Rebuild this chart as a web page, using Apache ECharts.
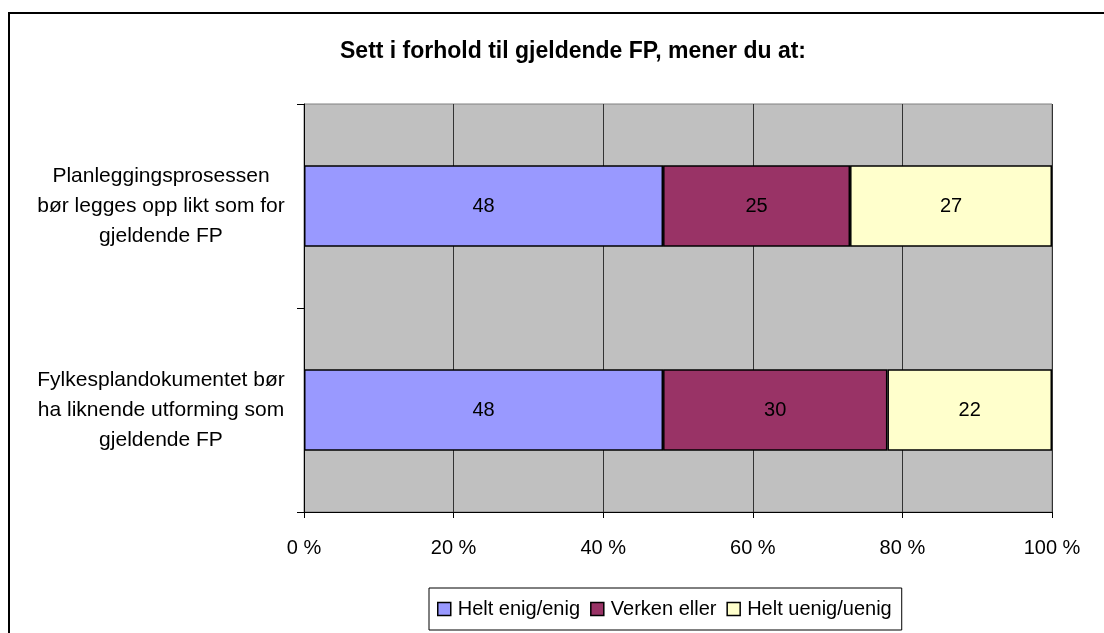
<!DOCTYPE html>
<html>
<head>
<meta charset="utf-8">
<script src="https://cdn.jsdelivr.net/npm/echarts@6/dist/echarts.min.js"></script>
<style>
  html, body { margin: 0; padding: 0; background: #fff; }
  #chart { width: 1104px; height: 633px; }
</style>
</head>
<body>
<div id="chart"></div>
<script>
// kategorier (ovenfra og ned)
var categories = [
  'Planleggingsprosessen\nbør legges opp likt som for\ngjeldende FP',
  'Fylkesplandokumentet bør\nha liknende utforming som\ngjeldende FP'
]
var seriesNames = ['Helt enig/enig', 'Verken eller', 'Helt uenig/uenig']
var enig = [48, 48]
var verken = [25, 30]
var uenig = [27, 22]
var xTicks = [0, 20, 40, 60, 80, 100]

var font = '"Liberation Sans", Arial, sans-serif'
var colors = ['#9999FF', '#993366', '#FFFFCC']

var chart = echarts.init(document.getElementById('chart'))

var mkSeries = function (name, data, i) {
  return {
    name: name,
    type: 'bar',
    stack: 'total',
    data: data,
    barWidth: '40%',
    itemStyle: { color: colors[i], borderColor: '#000', borderWidth: 1.5 },
    label: {
      show: true,
      position: 'inside',
      color: '#000',
      fontFamily: font,
      fontSize: 20
    }
  }
}

var option = {
  animation: false,
  backgroundColor: '#fff',
  title: {
    text: 'Sett i forhold til gjeldende FP, mener du at:',
    left: 568,
    top: 35,
    textAlign: 'center',
    textStyle: { fontFamily: font, fontSize: 23, fontWeight: 'bold', color: '#000' }
  },
  graphic: [{
    type: 'rect',
    shape: { x: 9, y: 13, width: 1400, height: 900 },
    style: { fill: 'none', stroke: '#000', lineWidth: 2 },
    z: -1
  }],
  legend: {
    data: seriesNames,
    left: 429,
    top: 588,
    width: 480,
    itemWidth: 13,
    itemHeight: 13,
    itemGap: 10,
    padding: [11, 10, 11, 8],
    borderColor: '#000',
    borderWidth: 1,
    icon: 'rect',
    itemStyle: { borderColor: '#000', borderWidth: 1.5 },
    textStyle: { fontFamily: font, fontSize: 20, color: '#000', padding: [0, 0, 0, 2] }
  },
  grid: {
    left: 304,
    right: 52,
    top: 104,
    bottom: 121,
    show: true,
    backgroundColor: '#C0C0C0',
    borderColor: '#808080',
    borderWidth: 1
  },
  xAxis: {
    type: 'value',
    min: 0,
    max: 100,
    interval: 20,
    axisLine: { show: true, lineStyle: { color: '#000', width: 1 } },
    axisTick: { show: true, length: 6, lineStyle: { color: '#000' } },
    splitLine: { show: true, lineStyle: { color: '#333', width: 1 } },
    axisLabel: {
      margin: 26,
      color: '#000',
      fontFamily: font,
      fontSize: 20,
      formatter: function (v) { return xTicks.indexOf(v) >= 0 ? v + ' %' : '' }
    }
  },
  yAxis: {
    type: 'category',
    inverse: true,
    data: categories,
    axisLine: { show: true, lineStyle: { color: '#000', width: 1 } },
    axisTick: { show: true, length: 7, alignWithLabel: false, lineStyle: { color: '#000' } },
    axisLabel: {
      align: 'center',
      margin: 143,
      color: '#000',
      fontFamily: font,
      fontSize: 21,
      lineHeight: 30
    }
  },
  series: [
    mkSeries(seriesNames[0], enig, 0),
    mkSeries(seriesNames[1], verken, 1),
    mkSeries(seriesNames[2], uenig, 2)
  ]
}

chart.setOption(option)
</script>
</body>
</html>
